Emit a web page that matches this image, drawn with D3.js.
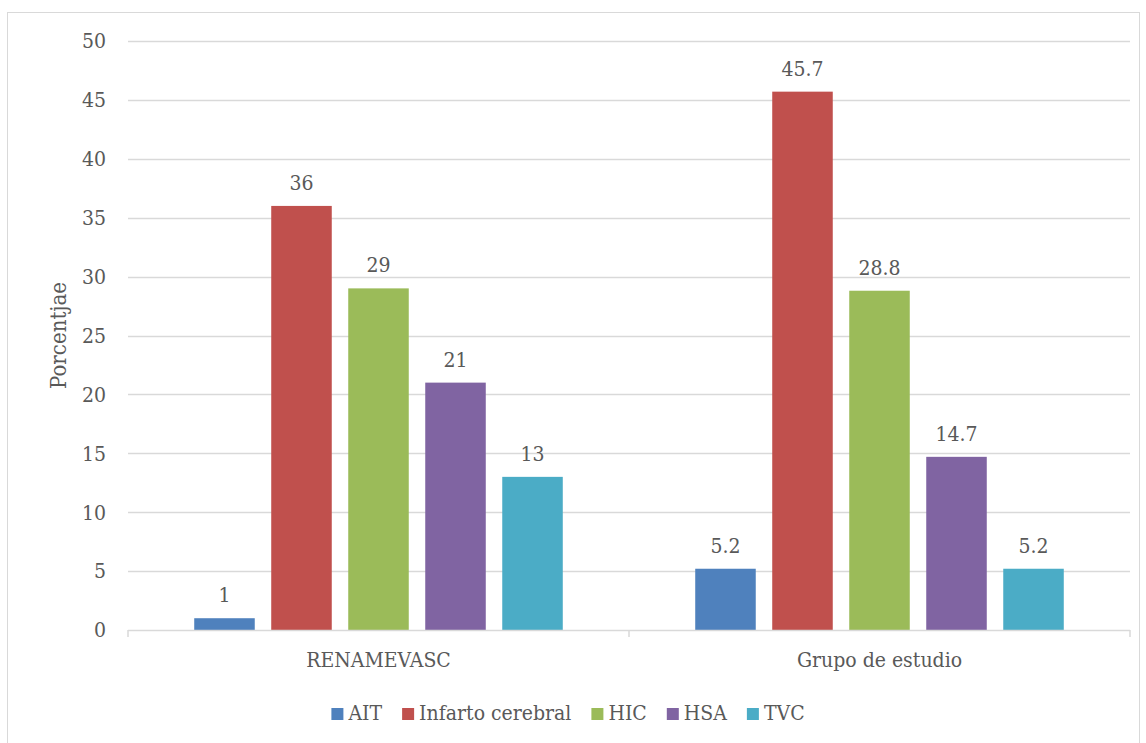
<!DOCTYPE html>
<html>
<head>
<meta charset="utf-8">
<script src="https://cdn.jsdelivr.net/npm/d3@7"></script>
<style>
  body { margin: 0; background: #fff; }
  svg text { font-family: "DejaVu Serif Condensed", "DejaVu Serif", serif; fill: #595959; }
</style>
</head>
<body>
<svg id="chart" width="1146" height="743"></svg>
<script>
// Data
var groups = ["RENAMEVASC", "Grupo de estudio"];
var series = ["AIT", "Infarto cerebral", "HIC", "HSA", "TVC"];
var colors = ["#4f81bd", "#c0504d", "#9bbb59", "#8064a2", "#4bacc6"];
var renamevasc = [1, 36, 29, 21, 13];
var grupoEstudio = [5.2, 45.7, 28.8, 14.7, 5.2];
var yTicks = [0, 5, 10, 15, 20, 25, 30, 35, 40, 45, 50];

var values = [renamevasc, grupoEstudio];

var svg = d3.select("#chart");

// chart border
svg.append("rect")
    .attr("x", 7.5).attr("y", 12.5)
    .attr("width", 1132).attr("height", 740)
    .attr("fill", "#fff")
    .attr("stroke", "#d9d9d9")
    .attr("stroke-width", 1);

var margin = {left: 128, right: 1130, top: 41, bottom: 630};

var x0 = d3.scaleBand().domain(groups).range([margin.left, margin.right]);
var x1 = d3.scaleBand().domain(series).range([0, x0.bandwidth()])
    .paddingInner(0.214).paddingOuter(0.86);
var y = d3.scaleLinear().domain([0, 50]).range([margin.bottom, margin.top]);

// gridlines
svg.append("g").selectAll("line").data(yTicks.filter(function(d) { return d > 0; })).enter().append("line")
    .attr("x1", margin.left).attr("x2", margin.right)
    .attr("y1", function(d) { return Math.round(y(d)) + 0.5; })
    .attr("y2", function(d) { return Math.round(y(d)) + 0.5; })
    .attr("stroke", "#d9d9d9").attr("stroke-width", 1.3);

// y tick labels
svg.append("g").selectAll("text").data(yTicks).enter().append("text")
    .attr("x", 106)
    .attr("y", function(d) { return y(d); })
    .attr("dy", "0.35em")
    .attr("text-anchor", "end")
    .attr("font-size", "21px")
    .text(function(d) { return d; });

// y title
svg.append("text")
    .attr("transform", "translate(66," + ((margin.top + margin.bottom) / 2) + ") rotate(-90)")
    .attr("text-anchor", "middle")
    .attr("font-size", "22px")
    .text("Porcentjae");

// bars
var g = svg.append("g").selectAll("g").data(groups).enter().append("g")
    .attr("transform", function(d) { return "translate(" + x0(d) + ",0)"; });

g.selectAll("rect").data(function(d, i) {
        return series.map(function(s, j) { return {s: s, v: values[i][j], c: colors[j]}; });
    }).enter().append("rect")
    .attr("x", function(d) { return x1(d.s); })
    .attr("y", function(d) { return y(d.v); })
    .attr("width", x1.bandwidth())
    .attr("height", function(d) { return y(0) - y(d.v); })
    .attr("fill", function(d) { return d.c; });

// value labels
g.selectAll("text").data(function(d, i) {
        return series.map(function(s, j) { return {s: s, v: values[i][j]}; });
    }).enter().append("text")
    .attr("x", function(d) { return x1(d.s) + x1.bandwidth() / 2; })
    .attr("y", function(d) { return y(d.v) - 16; })
    .attr("text-anchor", "middle")
    .attr("font-size", "21px")
    .text(function(d) { return d.v; });

// x axis line + ticks
svg.append("line")
    .attr("x1", margin.left).attr("x2", margin.right)
    .attr("y1", margin.bottom + 0.5).attr("y2", margin.bottom + 0.5)
    .attr("stroke", "#d9d9d9").attr("stroke-width", 1.5);
var tickXs = [margin.left].concat(groups.map(function(d) { return x0(d) + x0.bandwidth(); }));
svg.append("g").selectAll("line").data(tickXs).enter().append("line")
    .attr("x1", function(d) { return d; }).attr("x2", function(d) { return d; })
    .attr("y1", margin.bottom).attr("y2", margin.bottom + 7)
    .attr("stroke", "#d9d9d9").attr("stroke-width", 1.5);

// category labels
svg.append("g").selectAll("text").data(groups).enter().append("text")
    .attr("x", function(d) { return x0(d) + x0.bandwidth() / 2; })
    .attr("y", 667)
    .attr("text-anchor", "middle")
    .attr("font-size", "21px")
    .text(function(d) { return d; });

// legend
var legend = svg.append("g");
var items = legend.selectAll("g").data(series).enter().append("g");
items.append("rect")
    .attr("width", 12).attr("height", 12)
    .attr("y", -12)
    .attr("fill", function(d, i) { return colors[i]; });
items.append("text")
    .attr("x", 17)
    .attr("font-size", "21px")
    .text(function(d) { return d; });
var gap = 20;
var pos = 0;
items.each(function() {
    var w = d3.select(this).select("text").node().getComputedTextLength();
    d3.select(this).attr("data-x", pos);
    pos += 17 + w + gap;
});
var total = pos - gap;
var startX = 568 - total / 2;
items.attr("transform", function() { return "translate(" + (startX + +d3.select(this).attr("data-x")) + ",720)"; });
</script>
</body>
</html>
